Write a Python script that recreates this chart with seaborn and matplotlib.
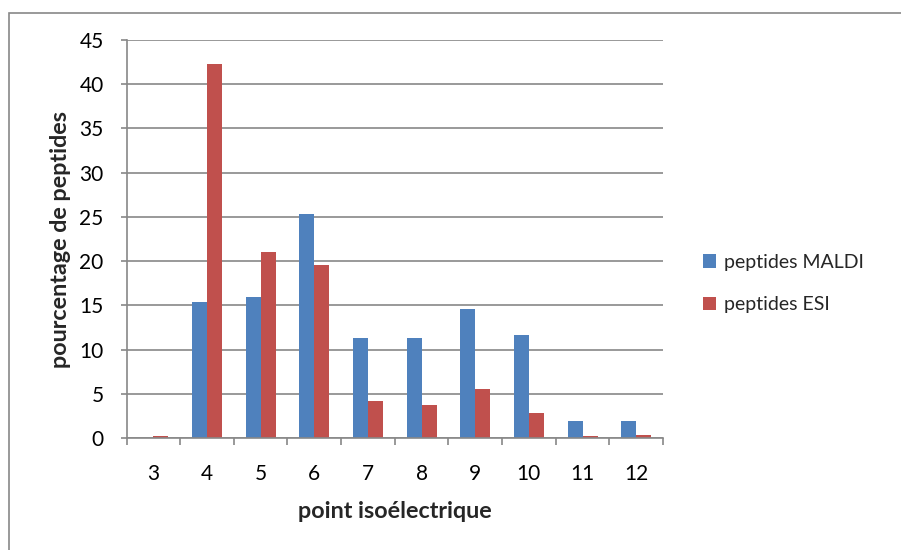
import matplotlib
matplotlib.use("Agg")
import matplotlib.pyplot as plt
from matplotlib.patches import Rectangle, Patch
from matplotlib.ticker import FixedLocator, NullFormatter
import seaborn as sns
import pandas as pd

categories = ["3", "4", "5", "6", "7", "8", "9", "10", "11", "12"]
maldi = [0.0, 15.4, 15.9, 25.3, 11.3, 11.3, 14.6, 11.6, 1.9, 1.9]
esi = [0.2, 42.3, 21.0, 19.6, 4.2, 3.7, 5.5, 2.8, 0.2, 0.35]
series_names = ["peptides MALDI", "peptides ESI"]
colors = ["#4f81bd", "#c0504d"]

df = pd.DataFrame({
    "pI": categories * 2,
    "pct": maldi + esi,
    "serie": [series_names[0]] * len(categories) + [series_names[1]] * len(categories),
})

sns.set_theme(style="white")
plt.rcParams["font.family"] = ["Lato", "DejaVu Sans"]

fig = plt.figure(figsize=(9.01, 5.5), dpi=100)
ax = fig.add_axes([126.5 / 901, 1 - 438 / 550, (663 - 126.5) / 901, (438 - 40) / 550])

sns.barplot(data=df, x="pI", y="pct", hue="serie", order=categories,
            hue_order=series_names, palette=colors, width=0.56, gap=0,
            saturation=1, ax=ax, legend=False, edgecolor="none")

grid_c = "#888888"
ax.set_ylim(0, 45)
ax.set_xlim(-0.5, len(categories) - 0.5)
ax.set_yticks(range(0, 46, 5))
ax.yaxis.grid(True, color=grid_c, linewidth=1.2)
ax.set_axisbelow(True)
for s in ["top", "right"]:
    ax.spines[s].set_visible(False)
for s in ["left", "bottom"]:
    ax.spines[s].set_color(grid_c)
    ax.spines[s].set_linewidth(1.2)

ax.tick_params(axis="y", which="major", left=True, length=4.5, width=1.2,
               color=grid_c, labelsize=15, pad=12, labelcolor="black")
ax.tick_params(axis="x", which="major", length=0, labelsize=15, pad=19,
               labelcolor="black")
ax.xaxis.set_minor_locator(FixedLocator([i - 0.5 for i in range(len(categories) + 1)]))
ax.xaxis.set_minor_formatter(NullFormatter())
ax.tick_params(axis="x", which="minor", bottom=True, length=5, width=1.2, color=grid_c)

ax.set_xlabel("point isoélectrique", fontsize=16.8, fontweight="bold", labelpad=12)
ax.set_ylabel("pourcentage de peptides", fontsize=16.8, fontweight="bold", labelpad=6)

handles = [Patch(facecolor=c, edgecolor="none") for c in colors]
fig.legend(handles, series_names, loc="center left", bbox_to_anchor=(685 / 901, 1 - 283.5 / 550),
           frameon=False, fontsize=14, handlelength=0.7, handleheight=0.7,
           handletextpad=0.43, labelspacing=1.32)

fig.patches.append(Rectangle((8.5 / 901, -0.01), (900 - 8.5) / 901 + 0.01, 1 - 13 / 550 + 0.01,
                             transform=fig.transFigure, fill=False,
                             edgecolor="#888888", linewidth=1.2))

fig.savefig("out.png", dpi=100, facecolor="white")
